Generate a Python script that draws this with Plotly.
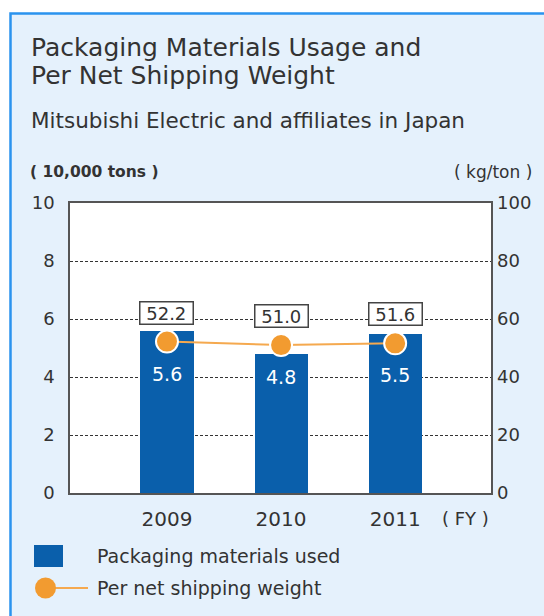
import plotly.graph_objects as go

# ---- data ----
years = ["2009", "2010", "2011"]
packaging_used = [5.6, 4.8, 5.5]          # 10,000 tons
per_net_weight = [52.2, 51.0, 51.6]       # kg/ton
left_ticks = [0, 2, 4, 6, 8, 10]
right_ticks = [0, 20, 40, 60, 80, 100]

BAR = "#0a5fab"
ORANGE = "#f29b30"
LINE_ORANGE = "#f5a94f"
TXT = "#333333"
PANEL = "#e5f1fc"
BORDER = "#2a93ee"
FONT = "DejaVu Sans, Liberation Sans, Arial, sans-serif"

W, H = 544, 616
L, R, T, B = 70, 53, 203, 123
PW, PH = W - L - R, H - T - B


def px(x):
    return (x - L) / PW


def py(y):
    return (H - B - y) / PH


fig = go.Figure()
fig.add_trace(go.Bar(
    x=years, y=packaging_used, marker=dict(color=BAR, line=dict(width=0)),
    width=0.465, showlegend=False, hoverinfo="skip", yaxis="y"))
fig.add_trace(go.Scatter(
    x=years, y=per_net_weight, mode="lines+markers", yaxis="y2",
    line=dict(color=LINE_ORANGE, width=2),
    marker=dict(color=ORANGE, size=22, line=dict(color="white", width=2)),
    showlegend=False, hoverinfo="skip"))

ann = []
for i, (b, v) in enumerate(zip(packaging_used, per_net_weight)):
    ann.append(dict(x=i, y=v, xref="x", yref="y2", yshift=29,
                    text=f" {v:.1f} ", showarrow=False,
                    font=dict(family=FONT, size=18, color=TXT),
                    bgcolor="white", bordercolor="#444", borderwidth=1.5,
                    borderpad=0))
    ann.append(dict(x=i, y=v, xref="x", yref="y2", yshift=-32,
                    text=f"{b:.1f}", showarrow=False,
                    font=dict(family=FONT, size=19, color="white")))


def label(x, y, text, size, anchor="left"):
    return dict(x=px(x), y=py(y), xref="paper", yref="paper", xanchor=anchor,
                yanchor="middle", text=text, showarrow=False,
                font=dict(family=FONT, size=size, color=TXT))


ann += [
    label(29, 48, "Packaging Materials Usage and", 25),
    label(29, 76, "Per Net Shipping Weight", 25),
    label(29, 120, "Mitsubishi Electric and affiliates in Japan", 21.5),
    label(28, 172, "<b>( 10,000 tons )</b>", 15.5),
    label(534, 172, "( kg/ton )", 17, "right"),
    label(440, 518, "( FY )", 18),
    label(95, 556, "Packaging materials used", 19),
    label(95, 588, "Per net shipping weight", 19),
]

shapes = [
    # white strips outside the panel border
    dict(type="rect", xref="paper", yref="paper", x0=px(0), x1=px(W), y0=py(13), y1=py(0),
         fillcolor="white", line=dict(width=0), layer="below"),
    dict(type="rect", xref="paper", yref="paper", x0=px(0), x1=px(10), y0=py(H), y1=py(0),
         fillcolor="white", line=dict(width=0), layer="below"),
    # panel border
    dict(type="rect", xref="paper", yref="paper", x0=px(10.5), x1=px(W + 20), y0=py(H + 20), y1=py(13.5),
         fillcolor="rgba(0,0,0,0)", line=dict(color=BORDER, width=2.5), layer="below"),
    # legend symbols
    dict(type="rect", xref="paper", yref="paper", x0=px(34), x1=px(63), y0=py(567), y1=py(545),
         fillcolor=BAR, line=dict(width=0)),
    dict(type="line", xref="paper", yref="paper", x0=px(45), x1=px(88), y0=py(588), y1=py(588),
         line=dict(color=LINE_ORANGE, width=2)),
    dict(type="circle", xref="paper", yref="paper", x0=px(35), x1=px(56), y0=py(598.5), y1=py(577.5),
         fillcolor=ORANGE, line=dict(width=0)),
]

fig.update_layout(
    width=W, height=H,
    margin=dict(l=L, r=R, t=T, b=B, pad=0),
    paper_bgcolor=PANEL, plot_bgcolor="white",
    font=dict(family=FONT, color=TXT),
    bargap=0,
    xaxis=dict(type="category", range=[-0.85, 2.84], showgrid=False,
               showline=True, linecolor="#555", linewidth=1.5, mirror=True,
               ticks="", tickfont=dict(size=20, color=TXT), ticklabelstandoff=7,
               fixedrange=True),
    yaxis=dict(range=[0, 10], tickvals=left_ticks, showgrid=True,
               gridcolor="#333", griddash="3px,2px", gridwidth=1,
               showline=True, linecolor="#555", linewidth=1.5, mirror=True,
               ticks="", tickfont=dict(size=18, color=TXT), ticklabelstandoff=10,
               zeroline=False, fixedrange=True),
    yaxis2=dict(range=[0, 100], tickvals=right_ticks, overlaying="y", side="right",
                showgrid=False, showline=False, ticks="",
                tickfont=dict(size=18, color=TXT), ticklabelstandoff=5,
                zeroline=False, fixedrange=True),
    annotations=ann,
    shapes=shapes,
)

fig.write_html("out.html", config={"displayModeBar": False},
               post_script="document.body.style.margin='0';")
